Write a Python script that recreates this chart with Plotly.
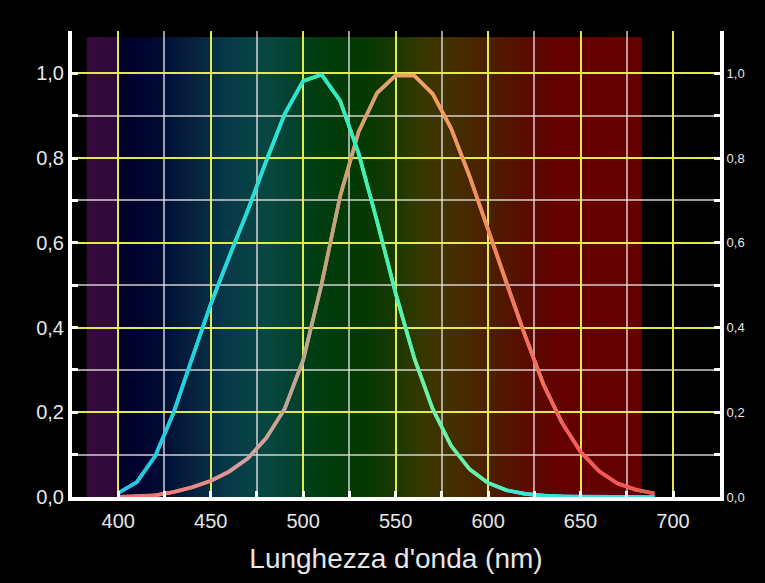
import numpy as np
import plotly.graph_objects as go

# Luminous efficiency functions sampled every 10 nm
wavelength = [400, 410, 420, 430, 440, 450, 460, 470, 480, 490,
              500, 510, 520, 530, 540, 550, 560, 570, 580, 590,
              600, 610, 620, 630, 640, 650, 660, 670, 680, 690]

# scotopic (rod) sensitivity V'(lambda)
scotopic = [0.0093, 0.0348, 0.0966, 0.1998, 0.3281, 0.455, 0.567, 0.676, 0.793, 0.904,
            0.982, 0.997, 0.935, 0.811, 0.650, 0.481, 0.329, 0.208, 0.121, 0.0655,
            0.0332, 0.0159, 0.0074, 0.0033, 0.0015, 0.0007, 0.0003, 0.0001, 0.0001, 0.0000]

# photopic (cone) sensitivity V(lambda)
photopic = [0.0004, 0.0012, 0.0040, 0.0116, 0.023, 0.038, 0.060, 0.091, 0.139, 0.208,
            0.323, 0.503, 0.710, 0.862, 0.954, 0.995, 0.995, 0.952, 0.870, 0.757,
            0.631, 0.503, 0.381, 0.265, 0.175, 0.107, 0.061, 0.032, 0.017, 0.0082]

x_ticks = [400, 450, 500, 550, 600, 650, 700]
y_ticks = [0.0, 0.2, 0.4, 0.6, 0.8, 1.0]

# ---- styling ----
SPECTRUM_W = [383, 399, 401, 420, 440, 460, 480, 495, 505, 530, 548, 565, 580, 600, 620, 640, 683]
SPECTRUM_C = ["#360a3c", "#300a3a", "#00002a", "#000834", "#06223e", "#083a4a", "#084842",
              "#034230", "#023e14", "#023a02", "#163a00", "#383800", "#443000", "#4c2000",
              "#5a0c00", "#640000", "#640000"]
SPECTRUM_TOP = 1.085

SCOT_W = [400, 440, 480, 510, 540, 570, 600, 620, 690]
SCOT_C = ["#1ec4ea", "#20d2e6", "#28e2d8", "#30e8c6", "#44f0b2", "#70f2a6", "#64f0b0",
          "#34e2de", "#30e0e8"]

PHOT_W = [400, 440, 470, 500, 520, 540, 560, 590, 620, 650, 690]
PHOT_C = ["#f26a6a", "#f08484", "#d8a0a6", "#baa892", "#c8a078", "#e0a070", "#f2a462",
          "#f29460", "#f27460", "#f25a5a", "#f05252"]

FONT = "Liberation Sans, Arial, sans-serif"
TEXT = "#e6e6e6"
GRID_MAJOR = "rgba(236,246,64,0.85)"
GRID_MINOR = "rgba(232,226,226,0.68)"
GRID_W = 1.6


def _rgb(h):
    h = h.lstrip("#")
    return [int(h[i:i + 2], 16) for i in (0, 2, 4)]


def ramp(w, stops_w, stops_c):
    rgb = np.array([_rgb(c) for c in stops_c], dtype=float)
    r, g, b = (np.interp(w, stops_w, rgb[:, k]) for k in range(3))
    return f"rgb({int(round(r))},{int(round(g))},{int(round(b))})"


fig = go.Figure()

# spectrum backdrop: overlapping 1 nm strips beneath the grid
shapes = []
last = SPECTRUM_W[-1]
for w in range(SPECTRUM_W[0], last):
    shapes.append(dict(type="rect", xref="x", yref="y", layer="below",
                       x0=w, x1=min(w + 2.5, last), y0=0, y1=SPECTRUM_TOP,
                       fillcolor=ramp(w + 0.5, SPECTRUM_W, SPECTRUM_C),
                       line=dict(width=0)))


def add_gradient_curve(xs, ys, stops_w, stops_c, width=3.6):
    # base line keeps the joints closed, coloured segments go on top
    fig.add_trace(go.Scatter(x=xs, y=ys, mode="lines", showlegend=False, hoverinfo="skip",
                             line=dict(color=ramp(np.mean(xs), stops_w, stops_c), width=width)))
    for i in range(len(xs) - 1):
        mid = 0.5 * (xs[i] + xs[i + 1])
        fig.add_trace(go.Scatter(x=xs[i:i + 2], y=ys[i:i + 2], mode="lines",
                                 showlegend=False, hoverinfo="skip",
                                 line=dict(color=ramp(mid, stops_w, stops_c), width=width)))


add_gradient_curve(wavelength, photopic, PHOT_W, PHOT_C)
add_gradient_curve(wavelength, scotopic, SCOT_W, SCOT_C)

# invisible copy so the right-hand axis is drawn
fig.add_trace(go.Scatter(x=wavelength, y=scotopic, yaxis="y2", mode="lines",
                         line=dict(width=0), opacity=0, showlegend=False, hoverinfo="skip"))

tick_common = dict(ticks="inside", ticklen=6, tickwidth=3, tickcolor="white",
                   showline=True, linecolor="white", linewidth=4, zeroline=False)

fig.update_layout(
    width=765, height=583,
    paper_bgcolor="black", plot_bgcolor="black",
    margin=dict(l=72, r=45, t=31, b=86),
    separators=", ",
    font=dict(family=FONT, color=TEXT),
    shapes=shapes,
    showlegend=False,
    xaxis=dict(
        range=[375, 725.4], tickvals=x_ticks, tickfont=dict(size=20, color=TEXT),
        ticklabelstandoff=3,
        showgrid=True, gridcolor=GRID_MAJOR, gridwidth=GRID_W,
        minor=dict(dtick=25, tick0=400, ticks="inside", ticklen=6, tickwidth=3,
                   tickcolor="white", showgrid=True, gridcolor=GRID_MINOR, gridwidth=GRID_W),
        title=dict(text="Lunghezza d'onda (nm)", font=dict(size=28, color=TEXT), standoff=18),
        **tick_common,
    ),
    yaxis=dict(
        range=[0, 1.1], tickvals=y_ticks, tickformat=".1f", tickfont=dict(size=20, color=TEXT),
        showgrid=True, gridcolor=GRID_MAJOR, gridwidth=GRID_W,
        minor=dict(dtick=0.1, tick0=0, ticks="inside", ticklen=6, tickwidth=3,
                   tickcolor="white", showgrid=True, gridcolor=GRID_MINOR, gridwidth=GRID_W),
        **tick_common,
    ),
    yaxis2=dict(
        overlaying="y", side="right", range=[0, 1.1], tickvals=y_ticks, tickformat=".1f",
        tickfont=dict(size=13, color=TEXT), showgrid=False,
        minor=dict(dtick=0.1, tick0=0, ticks="inside", ticklen=6, tickwidth=3, tickcolor="white"),
        **tick_common,
    ),
)

fig.write_html("out.html")
